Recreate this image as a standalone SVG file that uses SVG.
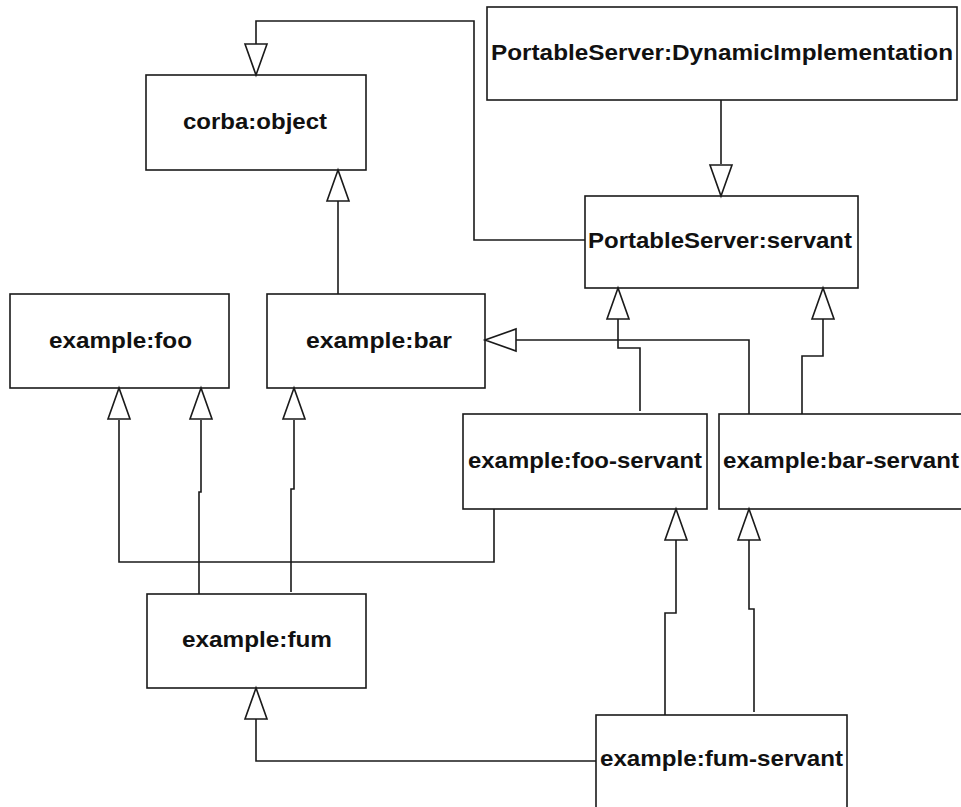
<svg xmlns="http://www.w3.org/2000/svg" xmlns:xlink="http://www.w3.org/1999/xlink" width="961" height="807" viewBox="0 0 961 807">
<style>
.box{fill:#fff;stroke:#1a1a1a;stroke-width:1.6}
.lbl{font-family:"Liberation Sans",Arial,sans-serif;font-weight:bold;font-size:22px;fill:#111;text-anchor:start}
.con path{fill:none;stroke:#1a1a1a;stroke-width:1.6}
.arr{fill:#fff;stroke:#1a1a1a;stroke-width:1.6;stroke-linejoin:miter}
</style>
<defs>
<path id="tri" d="M0,0 L-11,31 L11,31 Z"/>
</defs>
<rect width="961" height="807" fill="#fff"/>

<g id="connectors" class="con">
<path d="M585,240 H474 V21 H256 V44"/>
<path d="M721,100 V164"/>
<path d="M338,305 V201"/>
<path d="M494,509 V562 H119 V420"/>
<path d="M199,597 V492 H201 V420"/>
<path d="M291,592 V489 H294 V420"/>
<path d="M640,411 V348 H618 V319"/>
<path d="M749,414 V340 H516"/>
<path d="M802,426 V356 H823 V319"/>
<path d="M597,761 H256 V719"/>
<path d="M665,717 V613 H676 V538"/>
<path d="M754,712 V609 H749 V538"/>
</g>

<g id="node-dynimpl">
<rect class="box" x="487" y="7" width="470" height="93"/>
<text class="lbl" x="491" y="60" textLength="462" lengthAdjust="spacingAndGlyphs">PortableServer:DynamicImplementation</text>
</g>
<g id="node-corba-object">
<rect class="box" x="146" y="75" width="220" height="95"/>
<text class="lbl" x="183" y="129" textLength="144" lengthAdjust="spacingAndGlyphs">corba:object</text>
</g>
<g id="node-servant">
<rect class="box" x="585" y="196" width="273" height="92"/>
<text class="lbl" x="588" y="248" textLength="264" lengthAdjust="spacingAndGlyphs">PortableServer:servant</text>
</g>
<g id="node-foo">
<rect class="box" x="10" y="294" width="219" height="94"/>
<text class="lbl" x="49" y="348" textLength="143" lengthAdjust="spacingAndGlyphs">example:foo</text>
</g>
<g id="node-bar">
<rect class="box" x="267" y="294" width="218" height="94"/>
<text class="lbl" x="306" y="348" textLength="146" lengthAdjust="spacingAndGlyphs">example:bar</text>
</g>
<g id="node-foo-servant">
<rect class="box" x="463" y="414" width="244" height="95"/>
<text class="lbl" x="468" y="468" textLength="234" lengthAdjust="spacingAndGlyphs">example:foo-servant</text>
</g>
<g id="node-bar-servant">
<rect class="box" x="719" y="414" width="260" height="95"/>
<text class="lbl" x="723" y="468" textLength="236" lengthAdjust="spacingAndGlyphs">example:bar-servant</text>
</g>
<g id="node-fum">
<rect class="box" x="147" y="594" width="219" height="94"/>
<text class="lbl" x="182" y="647" textLength="150" lengthAdjust="spacingAndGlyphs">example:fum</text>
</g>
<g id="node-fum-servant">
<rect class="box" x="596" y="715" width="251" height="110"/>
<text class="lbl" x="600" y="766" textLength="243" lengthAdjust="spacingAndGlyphs">example:fum-servant</text>
</g>

<g id="arrowheads">
<use xlink:href="#tri" class="arr" transform="translate(256,75) rotate(180)"/>
<use xlink:href="#tri" class="arr" transform="translate(721,196) rotate(180)"/>
<use xlink:href="#tri" class="arr" transform="translate(338,170)"/>
<use xlink:href="#tri" class="arr" transform="translate(119,388)"/>
<use xlink:href="#tri" class="arr" transform="translate(201,388)"/>
<use xlink:href="#tri" class="arr" transform="translate(294,388)"/>
<use xlink:href="#tri" class="arr" transform="translate(618,288)"/>
<use xlink:href="#tri" class="arr" transform="translate(823,288)"/>
<use xlink:href="#tri" class="arr" transform="translate(485,340) rotate(-90)"/>
<use xlink:href="#tri" class="arr" transform="translate(256,688)"/>
<use xlink:href="#tri" class="arr" transform="translate(676,509)"/>
<use xlink:href="#tri" class="arr" transform="translate(749,509)"/>
</g>
</svg>
